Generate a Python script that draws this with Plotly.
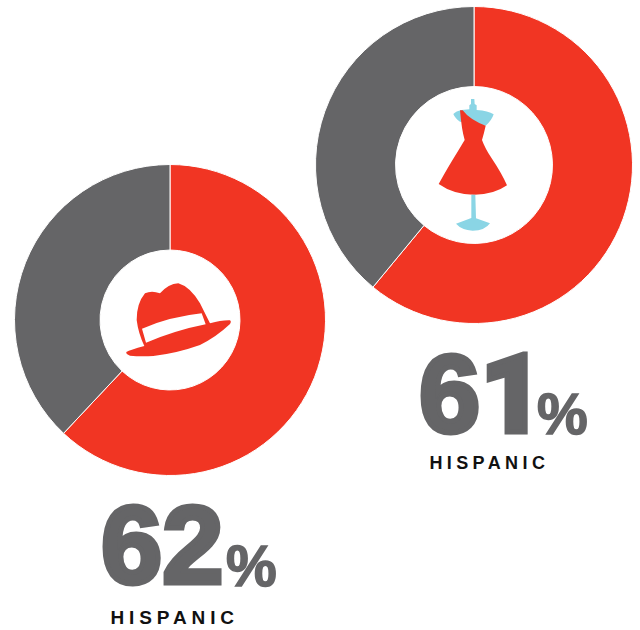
import re
import plotly.graph_objects as go

W, H = 640, 630
RED, GREY, BLUE = "#F13523", "#656567", "#8AD5E5"

hat_values = [62, 38]
dress_values = [61, 39]
slice_names = ["Hispanic", "Other"]
hat_label = "62"
dress_label = '6<span style="font-family:Roboto;font-weight:900">1</span>'
caption = "HISPANIC"


def px_x(x):
    return x / W


def px_y(y):
    return 1 - y / H


def domain(cx, cy, r):
    return dict(x=[px_x(cx - r), px_x(cx + r)], y=[px_y(cy + r), px_y(cy - r)])


def donut(values, cx, cy, r, hole):
    return go.Pie(
        labels=slice_names, values=values, hole=hole, sort=False,
        direction="clockwise", rotation=0, textinfo="none", showlegend=False,
        marker=dict(colors=[RED, GREY], line=dict(color="white", width=1)),
        domain=domain(cx, cy, r),
    )


def icon(d, ox, oy, color, scale=3.0):
    # Icon outlines are authored at 3x; scale them down and place them in paper space.
    parts = re.findall(r"[A-Za-z]|-?\d+\.?\d*", d)
    out, is_x = [], True
    for p in parts:
        if p.isalpha():
            out.append(p)
            is_x = True
        else:
            v = float(p) / scale
            out.append(f"{px_x(ox + v):.5f}" if is_x else f"{px_y(oy + v):.5f}")
            is_x = not is_x
    return dict(type="path", path=" ".join(out), xref="paper", yref="paper",
                fillcolor=color, line=dict(width=0), layer="above")


HAT = ("M80 150 Q80 100 105 70 Q125 60 150 70 Q175 42 205 40 Q240 50 270 100 "
       "L300 160 Q335 150 360 151 Q365 155 360 162 Q320 200 270 225 Q200 250 130 258 "
       "Q90 260 60 257 Q47 252 49 246 Q60 240 103 228 Q85 190 80 150 Z")
BAND = "M96 176 Q180 140 275 130 L287 163 Q200 180 108 218 Z"
BODY = ("M153 57 L163 57 L164 72 L170 76 L170 90 Q205 92 221 103 Q215 122 197 137 "
        "L120 125 Q105 115 100 102 Q108 93 125 90 L148 88 L148 76 L153 72 Z")
DRESS = ("M120 91 L128 91 Q150 120 197 137 Q192 160 186 180 Q195 205 215 235 Q245 280 261 316 "
         "Q220 345 160 344 Q100 343 56 312 Q85 260 110 220 Q125 195 134 180 Q125 150 120 91 Z")
STAND = "M154 344 L166 344 L168 415 L210 430 Q195 452 158 452 Q125 450 108 431 L154 414 Z"


def text(s, x, y, size, color=GREY):
    return dict(text=s, x=px_x(x), y=px_y(y), xref="paper", yref="paper", showarrow=False,
                xanchor="left", yanchor="middle", borderpad=0,
                font=dict(size=size, family="Liberation Sans", weight=700, color=color))


fig = go.Figure([donut(hat_values, 170, 320, 155.5, 0.45),
                 donut(dress_values, 474, 165, 158.5, 0.495)])
fig.update_layout(
    width=W, height=H, margin=dict(l=0, r=0, t=0, b=0),
    paper_bgcolor="white", plot_bgcolor="white",
    shapes=[icon(HAT, 110, 270, RED), icon(BAND, 110, 270, "white"),
            icon(BODY, 420, 80, BLUE), icon(DRESS, 420, 80, RED), icon(STAND, 420, 80, BLUE)],
    annotations=[
        text(hat_label, 100, 544, 110),
        text("%", 225, 566, 57),
        text(caption, 129, 617, 19, "#111111"),
        text(dress_label, 418, 394, 110),
        text("%", 536, 414, 57),
        text(caption, 446, 463, 18, "#111111"),
    ],
)

# Captions are tracked out and the large figures thickened; annotation fonts have no setting for either.
FINISH = """
document.querySelectorAll('.annotation-text').forEach(function (t) {
  var s = t.textContent;
  if (s === 'HISPANIC') {
    t.style.letterSpacing = t.style.fontSize === '19px' ? '4.9px' : '4.4px';
  } else {
    t.style.stroke = '#656567';
    t.style.strokeWidth = s === '%' ? '1.5px' : '5px';
    t.style.strokeLinejoin = 'miter';
  }
});
"""
fig.write_html("out.html", post_script=FINISH)
